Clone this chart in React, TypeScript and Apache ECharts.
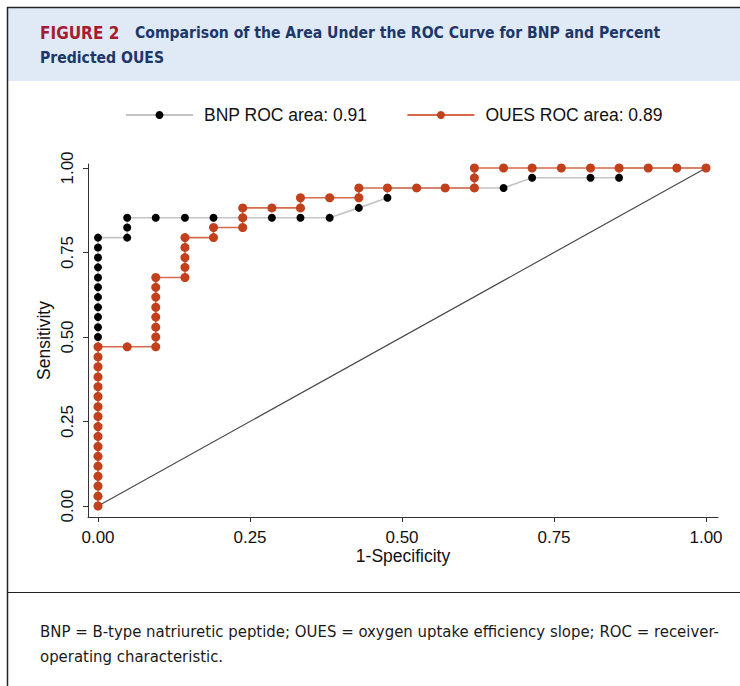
import React, { useEffect, useRef } from "react";
import * as echarts from "echarts";

// ROC coordinates (1-Specificity, Sensitivity)
const bnpFpr = [
  0, 0, 0, 0, 0, 0, 0, 0, 0, 0, 0, 0, 0, 0, 0, 0, 0, 0, 0, 0, 0, 0, 0, 0, 0, 0, 0, 0,
  0.048, 0.048, 0.048,
  0.095, 0.143, 0.19, 0.238, 0.286, 0.333, 0.381,
  0.429, 0.476, 0.476,
  0.524, 0.571, 0.619, 0.667,
  0.714, 0.81, 0.857, 0.857,
  0.905, 0.952, 1,
];
const bnpTpr = [
  0, 0.029, 0.059, 0.088, 0.118, 0.147, 0.176, 0.206, 0.235, 0.265, 0.294, 0.324, 0.353, 0.382,
  0.412, 0.441, 0.471, 0.5, 0.529, 0.559, 0.588, 0.618, 0.647, 0.676, 0.706, 0.735, 0.765, 0.794,
  0.794, 0.824, 0.853,
  0.853, 0.853, 0.853, 0.853, 0.853, 0.853, 0.853,
  0.882, 0.912, 0.941,
  0.941, 0.941, 0.941, 0.941,
  0.971, 0.971, 0.971, 1,
  1, 1, 1,
];

const ouesFpr = [
  0, 0, 0, 0, 0, 0, 0, 0, 0, 0, 0, 0, 0, 0, 0, 0, 0,
  0.048, 0.095,
  0.095, 0.095, 0.095, 0.095, 0.095, 0.095, 0.095,
  0.143, 0.143, 0.143, 0.143, 0.143,
  0.19, 0.19,
  0.238, 0.238, 0.238,
  0.286, 0.333, 0.333,
  0.381, 0.429, 0.429,
  0.476, 0.524, 0.571, 0.619, 0.619, 0.619,
  0.667, 0.714, 0.762, 0.81, 0.857, 0.905, 0.952, 1,
];
const ouesTpr = [
  0, 0.029, 0.059, 0.088, 0.118, 0.147, 0.176, 0.206, 0.235, 0.265, 0.294, 0.324, 0.353, 0.382,
  0.412, 0.441, 0.471,
  0.471, 0.471,
  0.5, 0.529, 0.559, 0.588, 0.618, 0.647, 0.676,
  0.676, 0.706, 0.735, 0.765, 0.794,
  0.794, 0.824,
  0.824, 0.853, 0.882,
  0.882, 0.882, 0.912,
  0.912, 0.912, 0.941,
  0.941, 0.941, 0.941, 0.941, 0.971, 1,
  1, 1, 1, 1, 1, 1, 1, 1,
];

const refLine = [
  [0, 0],
  [1, 1],
];

const tickValues = [0, 0.25, 0.5, 0.75, 1];
const seriesNames = ["BNP ROC area: 0.91", "OUES ROC area: 0.89"];

const titleRed = "FIGURE 2";
const titleLine1 = "Comparison of the Area Under the ROC Curve for BNP and Percent";
const titleLine2 = "Predicted OUES";
const footLine1 =
  "BNP = B-type natriuretic peptide; OUES = oxygen uptake efficiency slope; ROC = receiver-";
const footLine2 = "operating characteristic.";

const headFont = "'DejaVu Sans Condensed', 'Liberation Sans Narrow', Roboto, sans-serif";
const chartFont = "'Liberation Sans', Arial, sans-serif";

export default function App() {
  const ref = useRef<HTMLDivElement>(null);

  useEffect(() => {
    if (!ref.current) return;
    const chart = echarts.init(ref.current, undefined, { renderer: "svg" });

    const bnpData = bnpFpr.map((x, i) => [x, bnpTpr[i]]);
    const ouesData = ouesFpr.map((x, i) => [x, ouesTpr[i]]);

    const axisCommon = {
      type: "value" as const,
      axisLine: { show: true, onZero: false, lineStyle: { color: "#333", width: 1 } },
      axisTick: {
        show: true,
        length: 5,
        customValues: tickValues,
        lineStyle: { color: "#333", width: 1 },
      },
      splitLine: { show: false },
      nameLocation: "middle" as const,
      nameMoveOverlap: false,
      nameTextStyle: { fontFamily: chartFont, fontSize: 17.5, color: "#111" },
    };

    chart.setOption({
      animation: false,
      textStyle: { fontFamily: chartFont },
      grid: { left: 88, top: 164, width: 630, height: 353 },
      legend: {
        data: seriesNames,
        left: 125,
        top: 106,
        padding: 0,
        itemWidth: 67,
        itemHeight: 10,
        itemGap: 39,
        textStyle: { fontFamily: chartFont, fontSize: 17.5, color: "#111", padding: [0, 0, 0, 6] },
      },
      xAxis: {
        ...axisCommon,
        min: -0.01645,
        max: 1.0197,
        name: "1-Specificity",
        nameGap: 30,
        axisLabel: {
          customValues: tickValues,
          formatter: (v: number) => v.toFixed(2),
          fontFamily: chartFont,
          fontSize: 17,
          color: "#111",
          margin: 12,
        },
      },
      yAxis: {
        ...axisCommon,
        min: -0.0325,
        max: 1.0118,
        name: "Sensitivity",
        nameGap: 35,
        nameRotate: 90,
        axisLabel: {
          customValues: tickValues,
          formatter: (v: number) => v.toFixed(2),
          fontFamily: chartFont,
          fontSize: 17,
          color: "#111",
          rotate: 90,
          margin: 12,
        },
      },
      series: [
        {
          name: "reference",
          type: "line",
          data: refLine,
          symbol: "none",
          silent: true,
          lineStyle: { color: "#4a4a4a", width: 1.2 },
          z: 1,
        },
        {
          name: seriesNames[0],
          type: "line",
          data: bnpData,
          symbol: "circle",
          symbolSize: 8,
          showAllSymbol: true,
          itemStyle: { color: "#000" },
          lineStyle: { color: "#c4c4c4", width: 1.6 },
          z: 2,
        },
        {
          name: seriesNames[1],
          type: "line",
          data: ouesData,
          symbol: "circle",
          symbolSize: 9,
          showAllSymbol: true,
          itemStyle: { color: "#c2411c" },
          lineStyle: { color: "#d66a4b", width: 1.6 },
          z: 3,
        },
      ],
      graphic: [
        {
          type: "rect",
          shape: { x: 8, y: 8, width: 732, height: 73 },
          style: { fill: "#dfeaf6" },
          silent: true,
        },
        {
          type: "line",
          shape: { x1: 7.5, y1: 7, x2: 7.5, y2: 686 },
          style: { stroke: "#222", lineWidth: 1.5 },
          silent: true,
        },
        {
          type: "line",
          shape: { x1: 7, y1: 7.5, x2: 740, y2: 7.5 },
          style: { stroke: "#222", lineWidth: 1.5 },
          silent: true,
        },
        {
          type: "line",
          shape: { x1: 7, y1: 592.5, x2: 740, y2: 592.5 },
          style: { stroke: "#222", lineWidth: 1.2 },
          silent: true,
        },
        {
          type: "text",
          x: 40,
          y: 33,
          style: {
            text: titleRed,
            fill: "#a51c30",
            fontFamily: headFont,
            fontWeight: "bold",
            fontSize: 17,
            textVerticalAlign: "middle",
          },
          silent: true,
        },
        {
          type: "text",
          x: 135,
          y: 33,
          style: {
            text: titleLine1,
            fill: "#1c3768",
            fontFamily: headFont,
            fontWeight: "bold",
            fontSize: 15.6,
            textVerticalAlign: "middle",
          },
          silent: true,
        },
        {
          type: "text",
          x: 40,
          y: 58,
          style: {
            text: titleLine2,
            fill: "#1c3768",
            fontFamily: headFont,
            fontWeight: "bold",
            fontSize: 15.6,
            textVerticalAlign: "middle",
          },
          silent: true,
        },
        {
          type: "text",
          x: 40,
          y: 631,
          style: {
            text: footLine1,
            fill: "#1a1a1a",
            fontFamily: headFont,
            fontSize: 16.6,
            textVerticalAlign: "middle",
          },
          silent: true,
        },
        {
          type: "text",
          x: 40,
          y: 656,
          style: {
            text: footLine2,
            fill: "#1a1a1a",
            fontFamily: headFont,
            fontSize: 16.6,
            textVerticalAlign: "middle",
          },
          silent: true,
        },
      ],
    });

    return () => chart.dispose();
  }, []);

  return (
    <div
      ref={ref}
      style={{ position: "absolute", left: 0, top: 0, width: 740, height: 686, background: "#fff" }}
    />
  );
}
